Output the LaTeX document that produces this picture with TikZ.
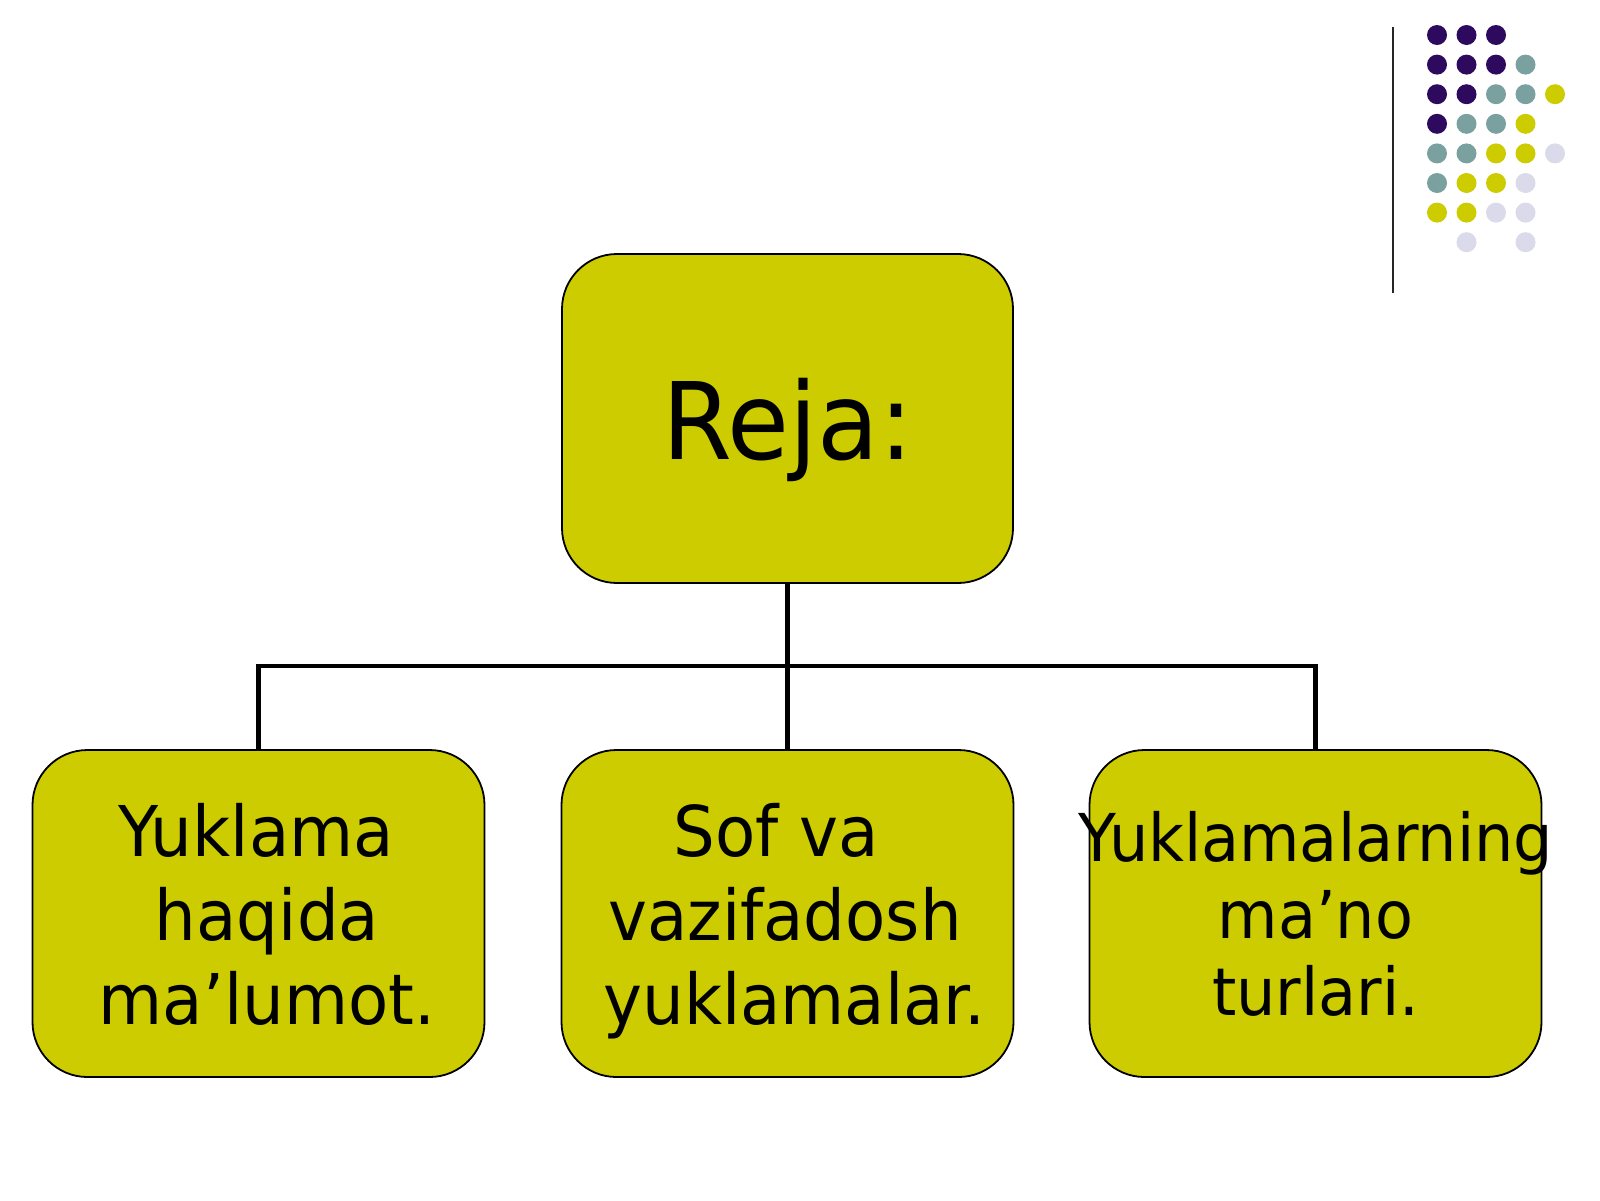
\documentclass[tikz,border=0pt]{standalone}
\usepackage{fontspec}
\setmainfont{DejaVu Sans}[FakeStretch=0.94]
\definecolor{boxfill}{RGB}{204,204,0}
\definecolor{dotP}{RGB}{46,10,94}
\definecolor{dotT}{RGB}{122,160,160}
\definecolor{dotY}{RGB}{204,204,0}
\definecolor{dotL}{RGB}{218,218,234}
\newcommand{\shiftline}[2]{\makebox[0pt]{\hspace*{#1}\hspace*{#1}#2}}
\tikzset{
  card/.style={draw=black, line width=1.8pt, fill=boxfill, rounded corners=55pt,
    inner sep=0pt, align=center, text depth=0pt, text=black},
  toplevel/.style={card, minimum width=451pt, minimum height=329pt,
    font=\fontsize{107}{128}\selectfont},
  child/.style={card, minimum width=452pt, minimum height=327pt,
    font=\fontsize{70}{84}\selectfont},
  childsmall/.style={card, minimum width=452pt, minimum height=327pt,
    font=\fontsize{66}{77}\selectfont},
  link/.style={draw=black, line width=4.6pt}
}
\begin{document}
\begin{tikzpicture}[x=1pt,y=-1pt]
\useasboundingbox (0,0) rectangle (1600,1200);
\fill[white] (0,0) rectangle (1600,1200);

% decoration
\draw[line width=2pt, black!85] (1393,27) -- (1393,293);
\foreach \r/\c/\col in {0/0/dotP,0/1/dotP,0/2/dotP,
  1/0/dotP,1/1/dotP,1/2/dotP,1/3/dotT,
  2/0/dotP,2/1/dotP,2/2/dotT,2/3/dotT,2/4/dotY,
  3/0/dotP,3/1/dotT,3/2/dotT,3/3/dotY,
  4/0/dotT,4/1/dotT,4/2/dotY,4/3/dotY,4/4/dotL,
  5/0/dotT,5/1/dotY,5/2/dotY,5/3/dotL,
  6/0/dotY,6/1/dotY,6/2/dotL,6/3/dotL,
  7/1/dotL,7/3/dotL}
  \fill[\col] (1437+29.5*\c, 35+29.6*\r) circle[radius=10];

% boxes
\node[toplevel] (top) at (787.5,418.5) {Reja:};
\node[child] (left) at (258.5,913.5)
  {\shiftline{-2.5pt}{Yuklama}\\\shiftline{8.5pt}{haqida}\\\shiftline{8.5pt}{ma’lumot.}};
\node[child] (mid) at (787.5,913.5)
  {\shiftline{-11.5pt}{Sof va}\\\shiftline{-2.5pt}{vazifadosh}\\\shiftline{7pt}{yuklamalar.}};
\node[childsmall] (right) at (1315.5,913.5)
  {\shiftline{0pt}{Yuklamalarning}\\\shiftline{0pt}{ma’no}\\\shiftline{0pt}{turlari.}};

% connectors
\coordinate (j) at (787.5,666);
\draw[link] (top.south) -- (j);
\draw[link] (left.north) |- (j) -| (right.north);
\draw[link] (j) -- (mid.north);
\end{tikzpicture}
\end{document}
